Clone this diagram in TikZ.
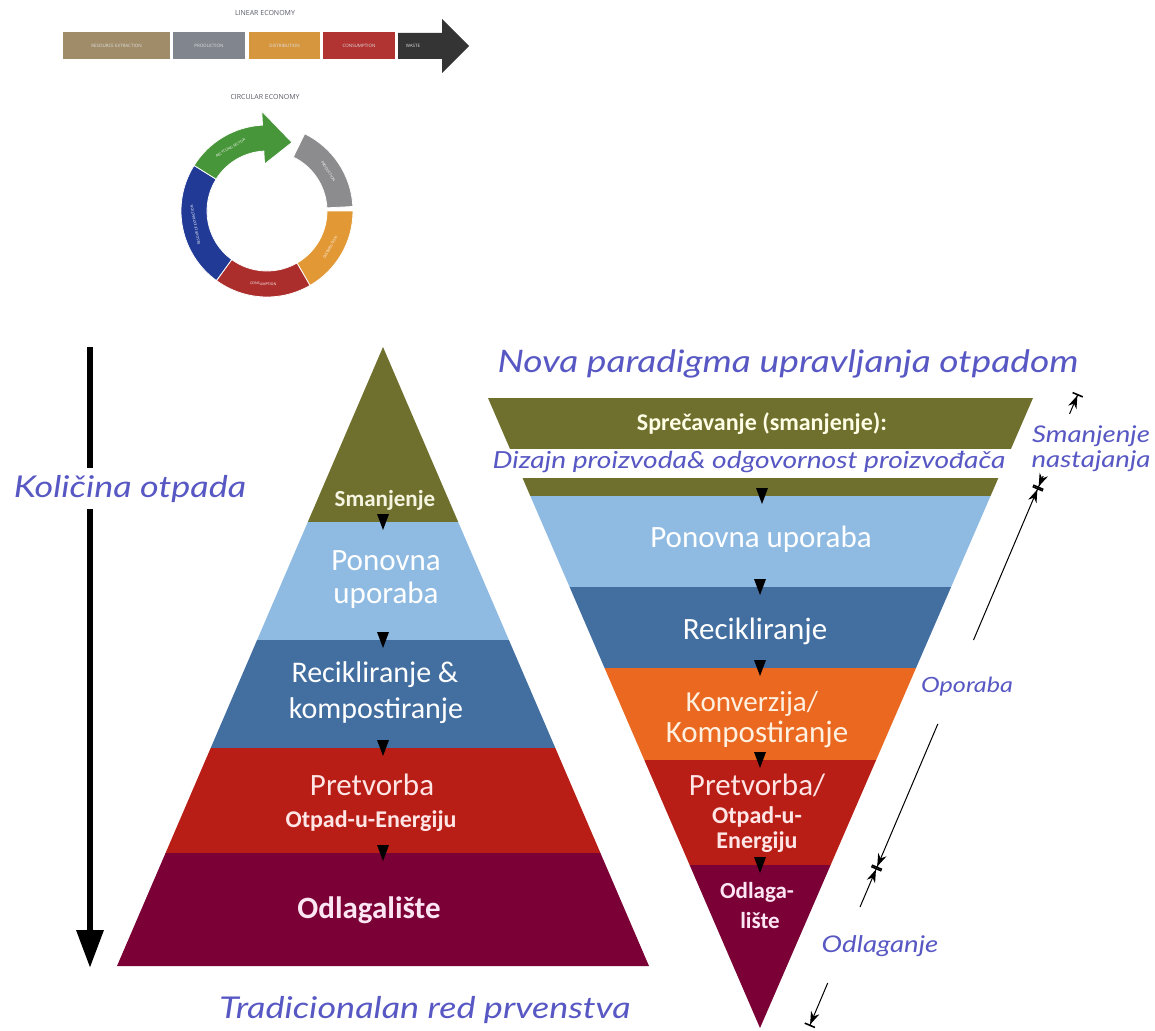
\documentclass[tikz,border=0pt]{standalone}
\usepackage{fontspec}
\setmainfont{Carlito}
\newfontfamily\handfont{Lato}[FakeStretch=1.2]
\newfontfamily\ecofont{Open Sans}
\usetikzlibrary{arrows.meta,calc}

\definecolor{handblue}{RGB}{88,88,196}
\definecolor{lvlolive}{RGB}{112,112,46}
\definecolor{lvllight}{RGB}{143,187,226}
\definecolor{lvlblue}{RGB}{66,110,160}
\definecolor{lvlorange}{RGB}{234,104,32}
\definecolor{lvlred}{RGB}{184,30,22}
\definecolor{lvlmaroon}{RGB}{122,0,54}
\definecolor{linbrown}{RGB}{160,140,105}
\definecolor{lingray}{RGB}{128,133,142}
\definecolor{linorange}{RGB}{214,150,62}
\definecolor{linred}{RGB}{178,52,50}
\definecolor{lindark}{RGB}{52,52,52}
\definecolor{ringgreen}{RGB}{72,150,58}
\definecolor{ringgray}{RGB}{140,140,142}
\definecolor{ringorange}{RGB}{226,152,52}
\definecolor{ringred}{RGB}{172,46,44}
\definecolor{ringblue}{RGB}{32,58,150}
\definecolor{ecotitle}{RGB}{90,92,104}

% small black marker between two levels
\newcommand{\lvltip}[2]{\fill[black] (#1-6,#2-8) -- (#1+6,#2-8) -- (#1,#2+8) -- cycle;}
% one piece of the ring
\newcommand{\ringpart}[3]{\fill[#1,draw=white,line width=0.8pt] ($(ringc)+(#2:86pt)$) arc[start angle=#2,end angle=#3,radius=86pt] -- ($(ringc)+(#3:60pt)$) arc[start angle=#3,end angle=#2,radius=60pt] -- cycle;}

\begin{document}
\begin{tikzpicture}[x=1pt,y=-1pt,
  hand/.style={font=\handfont\itshape\fontsize{#1}{#1}\selectfont, text=handblue, inner sep=0pt, anchor=base},
  lvl/.style={text=white, font=\fontsize{#1}{#1}\selectfont, anchor=base, inner sep=0pt},
  lvlbold/.style={text=white, font=\bfseries\fontsize{#1}{#1}\selectfont, anchor=base, inner sep=0pt},
  linseg/.style={minimum height=27pt, inner sep=0pt, text=white!88!black, font=\ecofont\fontsize{4.5}{5}\selectfont},
  ringtxt/.style={inner sep=0pt, text=white, font=\ecofont\fontsize{3.6}{4}\selectfont},
  dim/.style={line width=1pt, -{Stealth[length=13pt,width=9pt]Bar[width=11pt,line width=1.6pt]}}]
\fill[white] (0,0) rectangle (1155,1030);
\useasboundingbox (0,0) rectangle (1155,1030);

% Linear economy
\node[font=\ecofont\fontsize{7}{8}\selectfont, text=ecotitle] (lintitle) at (265,13) {LINEAR ECONOMY};
\node[linseg, fill=linbrown, minimum width=107pt] (lin1) at (116.5,46) {RESOURCE EXTRACTION};
\node[linseg, fill=lingray, minimum width=72pt] (lin2) at (209,46) {PRODUCTION};
\node[linseg, fill=linorange, minimum width=71pt] (lin3) at (284.5,46) {DISTRIBUTION};
\node[linseg, fill=linred, minimum width=72pt] (lin4) at (359,46) {CONSUMPTION};
\fill[lindark] (398,33) -- (442,33) -- (442,19) -- (469,46) -- (442,73) -- (442,59) -- (398,59) -- cycle;
\node[linseg] (lin5) at (413,46) {WASTE};

% Circular economy
\node[font=\ecofont\fontsize{7}{8}\selectfont, text=ecotitle] (circtitle) at (265,97) {CIRCULAR ECONOMY};
\coordinate (ringc) at (267,211);
\ringpart{ringgray}{3}{64}
\ringpart{ringorange}{-60}{0}
\ringpart{ringred}{-126}{-60}
\ringpart{ringblue}{148}{234}
\fill[ringgreen,draw=white,line width=0.8pt] ($(ringc)+(148:86pt)$) arc[start angle=148,end angle=93,radius=86pt]
  -- ($(ringc)+(93:100pt)$) -- ($(ringc)+(70:73pt)$) -- ($(ringc)+(93:47pt)$) -- ($(ringc)+(93:60pt)$)
  arc[start angle=93,end angle=148,radius=60pt] -- cycle;
\node[ringtxt, rotate=-57] (ring1) at ($(ringc)+(33:73pt)$) {PRODUCTION};
\node[ringtxt, rotate=60] (ring2) at ($(ringc)+(-30:73pt)$) {DISTRIBUTION};
\node[ringtxt, rotate=-3] (ring3) at ($(ringc)+(-93:73pt)$) {CONSUMPTION};
\node[ringtxt, rotate=101] (ring4) at ($(ringc)+(191:73pt)$) {RESOURCE EXTRACTION};
\node[ringtxt, rotate=30] (ring5) at ($(ringc)+(120:73pt)$) {RECYCLING SECTOR};

% Amount of waste
\coordinate (qtop) at (90,347);
\coordinate (qbot) at (90,968);
\draw[line width=6.5pt, -{Triangle[length=38pt,width=26pt]}] (qtop) -- (qbot);
\node[hand=30, fill=white, inner sep=7pt] (qlabel) at (130,497) {Količina otpada};

% Traditional pyramid
\coordinate (lapex) at (383,347);
\coordinate (lbl) at (117,966);
\coordinate (lbr) at (649,966);
\begin{scope}
\clip (lapex) -- (lbl) -- (lbr) -- cycle;
\fill[lvlolive] (100,340) rectangle (670,522);
\fill[lvllight] (100,522) rectangle (670,640);
\fill[lvlblue] (100,640) rectangle (670,748);
\fill[lvlred] (100,748) rectangle (670,853);
\fill[lvlmaroon] (100,853) rectangle (670,970);
\end{scope}
\lvltip{383}{522}
\lvltip{383}{640}
\lvltip{383}{748}
\lvltip{383}{853}
\node[lvlbold=23, text=white!92!olive] (l1) at (385,506) {Smanjenje};
\node[lvl=31] (l2a) at (386,570) {Ponovna};
\node[lvl=31] (l2b) at (386,603) {uporaba};
\node[lvl=30] (l3a) at (375,682) {Recikliranje \&};
\node[lvl=30] (l3b) at (376,718) {kompostiranje};
\node[lvl=31, text=white!90!red] (l4a) at (372,795) {Pretvorba};
\node[lvlbold=24, text=white!90!red] (l4b) at (371,827) {Otpad-u-Energiju};
\node[lvlbold=31, text=white!90!magenta] (l5) at (369,918) {Odlagalište};
\node[hand=30] (ltitle) at (425,1018) {Tradicionalan red prvenstva};

% New paradigm, upside down
\node[hand=31] (rtitle) at (788,372) {Nova paradigma upravljanja otpadom};
\coordinate (rtl) at (488,398);
\coordinate (rtr) at (1033,398);
\coordinate (rapex) at (760,1028);
\begin{scope}
\clip (rtl) -- (rtr) -- (rapex) -- cycle;
\fill[lvlolive] (480,390) rectangle (1040,449);
\fill[lvlolive] (480,478) rectangle (1040,496);
\fill[lvllight] (480,496) rectangle (1040,587);
\fill[lvlblue] (480,587) rectangle (1040,668);
\fill[lvlorange] (480,668) rectangle (1040,760);
\fill[lvlred] (480,760) rectangle (1040,865);
\fill[lvlmaroon] (480,865) rectangle (1040,1030);
\end{scope}
\lvltip{762}{496}
\lvltip{760}{587}
\lvltip{760}{668}
\lvltip{760}{760}
\lvltip{760}{865}
\node[lvlbold=24, text=white!90!yellow] (r1) at (762,430) {Sprečavanje (smanjenje):};
\node[hand=23.5] (r1b) at (749,468) {Dizajn proizvoda\& odgovornost proizvođača};
\node[lvl=31] (r2) at (761,547) {Ponovna uporaba};
\node[lvl=31] (r3) at (755,639) {Recikliranje};
\node[lvl=29, text=white!88!orange] (r4a) at (752,711) {Konverzija/};
\node[lvl=31, text=white!88!orange] (r4b) at (757,742) {Kompostiranje};
\node[lvl=31, text=white!90!red] (r5a) at (757,795) {Pretvorba/};
\node[lvlbold=24, text=white!90!red] (r5b) at (757,823) {Otpad-u-};
\node[lvlbold=24, text=white!90!red] (r5c) at (757,848) {Energiju};
\node[lvlbold=23, text=white!90!magenta] (r6a) at (757,898) {Odlaga-};
\node[lvlbold=23, text=white!90!magenta] (r6b) at (760,928) {lište};

% Dimension lines at the right
\node[hand=23] (sn1) at (1091,442) {Smanjenje};
\node[hand=23] (sn2) at (1091,467) {nastajanja};
\node[hand=21] (opo) at (967,692) {Oporaba};
\node[hand=23] (odl) at (880,952) {Odlaganje};
\coordinate (m0) at (1078,394);
\coordinate (s1a) at (1069.5,414);
\coordinate (s1b) at (1043.2,476);
\coordinate (m1) at (1038,488);
\coordinate (opa) at (973.5,640);
\coordinate (opb) at (937.8,724);
\coordinate (m2) at (876.6,868);
\coordinate (oda) at (860,907);
\coordinate (odb) at (827.7,983);
\coordinate (m3) at (809.5,1026);
\draw[dim] (s1a) -- (m0);
\draw[dim] (s1b) -- (m1);
\draw[dim] (opa) -- (m1);
\draw[dim] (opb) -- (m2);
\draw[dim] (oda) -- (m2);
\draw[dim] (odb) -- (m3);
\end{tikzpicture}
\end{document}
